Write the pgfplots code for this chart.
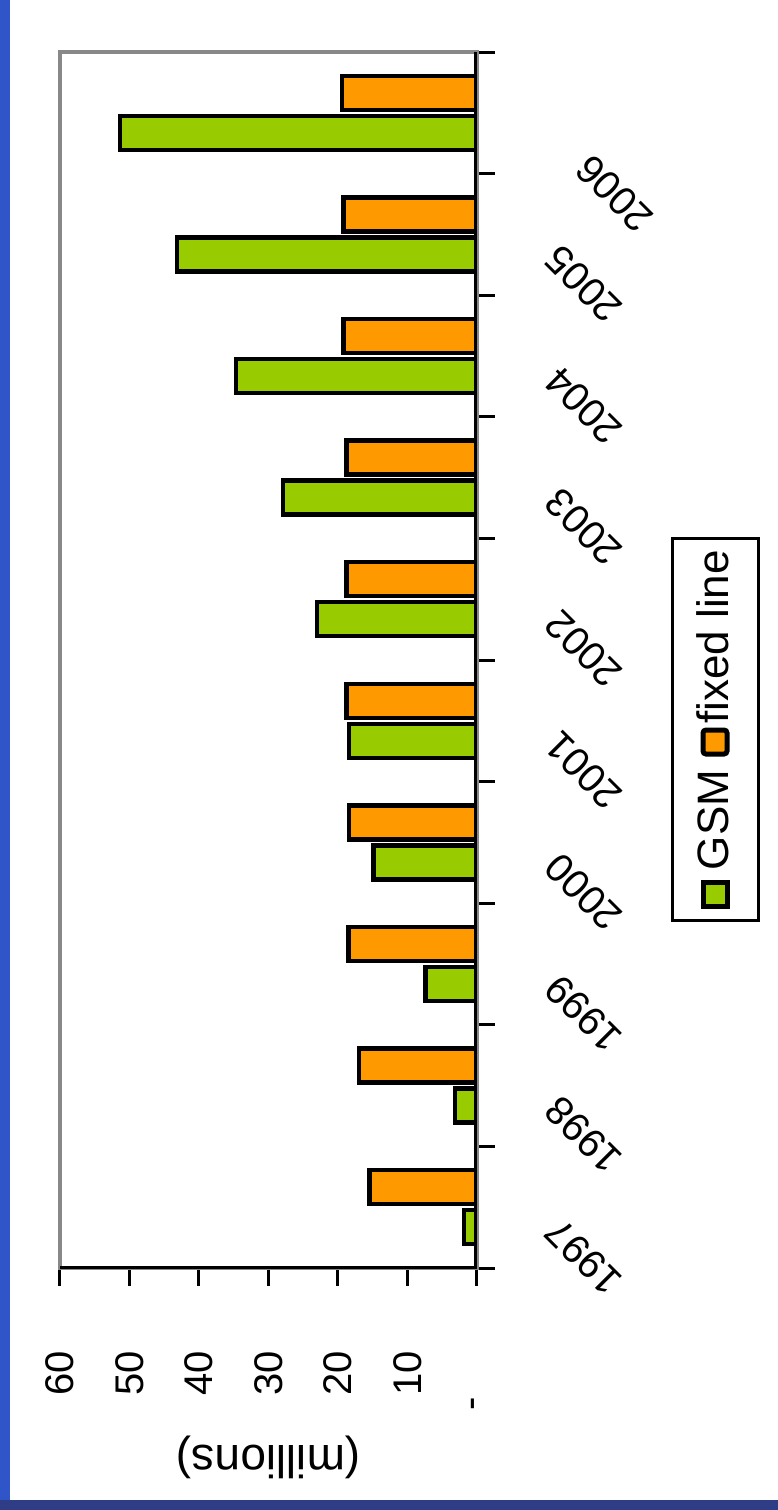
\documentclass[border=0pt]{standalone}
\usepackage{fontspec}
\setmainfont{Liberation Sans}
\usepackage{pgfplots}
\pgfplotsset{compat=1.18}

\definecolor{gsmgreen}{HTML}{99CC00}
\definecolor{fixorange}{HTML}{FF9900}
\definecolor{frameblue}{HTML}{2F55C8}
\definecolor{framenavy}{HTML}{2E3D85}
\definecolor{plotgray}{HTML}{888888}

\begin{document}
\begin{tikzpicture}[x=1pt,y=1pt]
\useasboundingbox (0,0) rectangle (778,-1510);
\fill[white] (0,0) rectangle (778,-1510);
\fill[frameblue] (0,0) rectangle (10,-1510);
\fill[framenavy] (0,-1500) rectangle (778,-1510);

\begin{axis}[
    at={(60pt,-1268pt)}, anchor=south west,
    scale only axis, width=417pt, height=1216pt,
    xbar, bar width=34pt,
    xmin=0, xmax=60, x dir=reverse,
    ymin=1996.5, ymax=2006.5,
    axis line style={plotgray, line width=4pt},
    xtick={0,10,...,60},
    xticklabels={{-\rule{46pt}{0pt}},10,20,30,40,50,60},
    xtick pos=left, ytick pos=right, tick align=outside,
    major tick length=18pt,
    tick style={black, line width=3pt},
    ytick={1996.5,1997.5,...,2006.5},
    yticklabels={},
    extra y ticks={1997,1998,...,2006},
    extra y tick labels={1997,1998,1999,2000,2001,2002,2003,2004,2005,{2006\rule{44pt}{0pt}}},
    extra y tick style={major tick length=0pt},
    xticklabel style={font=\fontsize{40}{40}\selectfont, inner sep=0pt,
        yshift=-65pt, rotate=90, anchor=east},
    yticklabel style={font=\fontsize{40}{40}\selectfont, inner sep=0pt,
        xshift=75pt, yshift=-18pt, rotate=135, anchor=east},
    xlabel={(millions)},
    xlabel style={font=\fontsize{46}{46}\selectfont, rotate=180, anchor=center,
        at={(axis description cs:0.5,-0.156)}},
]

% GSM
\addplot[xbar, bar shift=-20pt, fill=gsmgreen, draw=black, line width=4.5pt, line join=miter]
  coordinates {(1.9,1997) (3.2,1998) (7.4,1999) (14.9,2000) (18.4,2001)
               (23.0,2002) (27.9,2003) (34.7,2004) (43.2,2005) (51.4,2006)};
% fixed line
\addplot[xbar, bar shift=20pt, fill=fixorange, draw=black, line width=4.5pt, line join=miter]
  coordinates {(15.5,1997) (17.0,1998) (18.5,1999) (18.4,2000) (18.8,2001)
               (18.8,2002) (18.8,2003) (19.2,2004) (19.2,2005) (19.4,2006)};

\draw[black, line width=5pt] (axis cs:0,1996.5) -- (axis cs:0,2006.5);
\draw[black, line width=3.5pt] (axis cs:0,1996.5) -- (axis cs:60,1996.5);
\end{axis}

% legend
\draw[black, line width=3pt] (672,-538) rectangle (758,-920);
\filldraw[fill=gsmgreen, draw=black, line width=5pt] (703,-882) rectangle (727,-906);
\filldraw[fill=fixorange, draw=black, line width=5pt, rounded corners=3pt] (703,-730) rectangle (727,-754);
\node[rotate=90, font=\fontsize{44}{44}\selectfont, inner sep=0pt] at (713,-820) {GSM};
\node[rotate=90, font=\fontsize{44}{44}\selectfont, inner sep=0pt] at (713,-637) {fixed line};
\end{tikzpicture}
\end{document}
